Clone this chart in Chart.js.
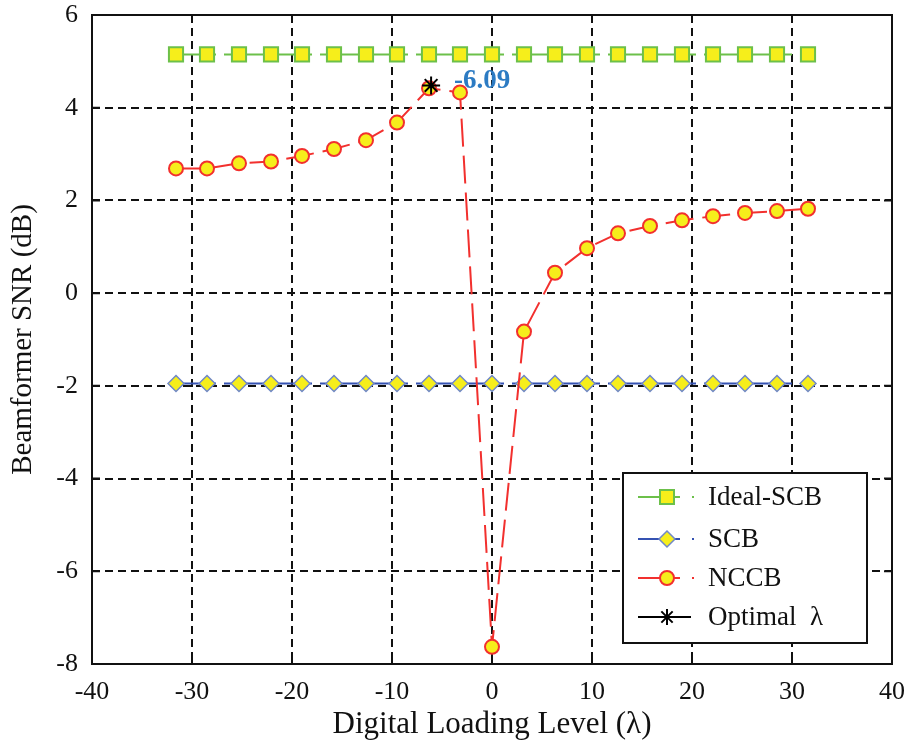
<!DOCTYPE html>
<html><head><meta charset="utf-8">
<script src="https://cdn.jsdelivr.net/npm/chart.js@4/dist/chart.umd.min.js"></script>
<style>html,body{margin:0;padding:0;background:#fff}canvas{display:block}</style>
</head><body>
<canvas id="c" width="904" height="744"></canvas>
<script>
// ---- data ----
const lambdaValues = [-31.6, -28.5, -25.3, -22.1, -19.0, -15.8, -12.6, -9.5, -6.3, -3.2, 0, 3.2, 6.3, 9.5, 12.6, 15.8, 19.0, 22.1, 25.3, 28.5, 31.6];
const idealScb = [5.15, 5.15, 5.15, 5.15, 5.15, 5.15, 5.15, 5.15, 5.15, 5.15, 5.15, 5.15, 5.15, 5.15, 5.15, 5.15, 5.15, 5.15, 5.15, 5.15, 5.15];
const scb = [-1.95, -1.95, -1.95, -1.95, -1.95, -1.95, -1.95, -1.95, -1.95, -1.95, -1.95, -1.95, -1.95, -1.95, -1.95, -1.95, -1.95, -1.95, -1.95, -1.95, -1.95];
const nccb = [2.69, 2.69, 2.80, 2.84, 2.96, 3.11, 3.30, 3.68, 4.42, 4.33, -7.63, -0.83, 0.44, 0.97, 1.29, 1.45, 1.57, 1.66, 1.73, 1.77, 1.82];
const optimalX = [-6.09];
const optimalY = [4.48];
const optimalLabel = '-6.09';
const xTicks = [-40, -30, -20, -10, 0, 10, 20, 30, 40];
const yTicks = [-8, -6, -4, -2, 0, 2, 4, 6];
const seriesNames = ['Ideal-SCB', 'SCB', 'NCCB', 'Optimal  \u03BB'];
const xTitle = 'Digital Loading Level (\u03BB)';
const yTitle = 'Beamformer SNR (dB)';

// ---- styles ----
const SERIF = "'Liberation Serif', 'Times New Roman', serif";
const YELLOW = '#F6EE1B';
const GREEN = '#6CC04A';
const BLUE = '#3552B2';
const BLUE_EDGE = '#7088C8';
const RED = '#F2302E';
const LABEL_BLUE = '#2C7BC3';

const toPts = (xs, ys) => xs.map((x, i) => ({x: x, y: ys[i]}));

function drawMarker(ctx, kind, x, y) {
  ctx.save();
  ctx.setLineDash([]);
  if (kind === 'rect') {
    ctx.fillStyle = YELLOW; ctx.strokeStyle = GREEN; ctx.lineWidth = 2;
    ctx.beginPath(); ctx.rect(x - 7, y - 7, 14, 14); ctx.fill(); ctx.stroke();
  } else if (kind === 'diamond') {
    ctx.fillStyle = YELLOW; ctx.strokeStyle = BLUE_EDGE; ctx.lineWidth = 1.5;
    ctx.beginPath(); ctx.moveTo(x, y - 8); ctx.lineTo(x + 8, y); ctx.lineTo(x, y + 8); ctx.lineTo(x - 8, y); ctx.closePath(); ctx.fill(); ctx.stroke();
  } else if (kind === 'circle') {
    ctx.fillStyle = YELLOW; ctx.strokeStyle = RED; ctx.lineWidth = 2;
    ctx.beginPath(); ctx.arc(x, y, 7, 0, Math.PI * 2); ctx.fill(); ctx.stroke();
  } else if (kind === 'star') {
    ctx.strokeStyle = '#000'; ctx.lineWidth = 2;
    ctx.beginPath();
    for (let a = 0; a < 4; a++) {
      const ang = a * Math.PI / 4;
      ctx.moveTo(x - 8 * Math.cos(ang), y - 8 * Math.sin(ang));
      ctx.lineTo(x + 8 * Math.cos(ang), y + 8 * Math.sin(ang));
    }
    ctx.stroke();
  }
  ctx.restore();
}

const framePlugin = {
  id: 'frame',
  afterDraw(chart) {
    const ctx = chart.ctx;
    const a = chart.chartArea;
    const xs = chart.scales.x, ys = chart.scales.y;
    ctx.save();
    ctx.setLineDash([]);
    ctx.strokeStyle = '#111';
    ctx.lineWidth = 2;
    // inward ticks
    ctx.beginPath();
    xTicks.forEach(v => {
      const px = xs.getPixelForValue(v);
      ctx.moveTo(px, a.bottom); ctx.lineTo(px, a.bottom - 8);
      ctx.moveTo(px, a.top); ctx.lineTo(px, a.top + 8);
    });
    yTicks.forEach(v => {
      const py = ys.getPixelForValue(v);
      ctx.moveTo(a.left, py); ctx.lineTo(a.left + 8, py);
      ctx.moveTo(a.right, py); ctx.lineTo(a.right - 8, py);
    });
    ctx.stroke();
    ctx.strokeRect(a.left, a.top, a.right - a.left, a.bottom - a.top);

    // optimal label
    const meta = chart.getDatasetMeta(3);
    const pt = meta.data[0];
    ctx.font = "bold 27px " + SERIF;
    ctx.fillStyle = LABEL_BLUE;
    ctx.textAlign = 'left';
    ctx.textBaseline = 'middle';
    ctx.fillText(optimalLabel, pt.x + 23, pt.y - 4);

    // legend
    const L = 623, T = 473, W = 244, H = 170;
    ctx.fillStyle = '#fff';
    ctx.fillRect(L, T, W, H);
    ctx.strokeStyle = '#111';
    ctx.lineWidth = 2;
    ctx.strokeRect(L, T, W, H);
    const rows = [497, 539, 578, 617];
    const cols = [GREEN, BLUE, RED, '#000'];
    const kinds = ['rect', 'diamond', 'circle', 'star'];
    rows.forEach((ry, i) => {
      ctx.strokeStyle = cols[i];
      ctx.lineWidth = 2;
      ctx.beginPath();
      if (i === 3) { ctx.moveTo(638, ry); ctx.lineTo(691, ry); }
      else { ctx.moveTo(638, ry); ctx.lineTo(680, ry); }
      ctx.stroke();
      drawMarker(ctx, kinds[i], 667, ry);
      if (i < 3) { ctx.fillStyle = cols[i]; ctx.fillRect(692, ry - 1, 2, 2); }
      ctx.fillStyle = '#111';
      ctx.font = "27px " + SERIF;
      ctx.textAlign = 'left';
      ctx.textBaseline = 'middle';
      ctx.fillText(seriesNames[i], 708, ry + 1);
    });
    ctx.restore();
  }
};

const tickFont = {family: SERIF, size: 26};

new Chart(document.getElementById('c'), {
  type: 'line',
  data: {
    datasets: [
      {
        label: seriesNames[0], data: toPts(lambdaValues, idealScb), order: 3,
        borderColor: GREEN, borderWidth: 2, borderDash: [40, 8],
        pointStyle: 'rect', pointRadius: 10, pointBackgroundColor: YELLOW, pointBorderColor: GREEN, pointBorderWidth: 2
      },
      {
        label: seriesNames[1], data: toPts(lambdaValues, scb), order: 2,
        borderColor: BLUE, borderWidth: 2, borderDash: [40, 8],
        pointStyle: 'rectRot', pointRadius: 8, pointBackgroundColor: YELLOW, pointBorderColor: BLUE_EDGE, pointBorderWidth: 1.5
      },
      {
        label: seriesNames[2], data: toPts(lambdaValues, nccb), order: 1,
        borderColor: RED, borderWidth: 2, borderDash: [28, 9],
        pointStyle: 'circle', pointRadius: 7, pointBackgroundColor: YELLOW, pointBorderColor: RED, pointBorderWidth: 2
      },
      {
        label: seriesNames[3], data: toPts(optimalX, optimalY), order: 0,
        borderColor: '#000', showLine: false,
        pointStyle: 'star', pointRadius: 9, pointBorderColor: '#000', pointBorderWidth: 2, pointBackgroundColor: '#000'
      }
    ]
  },
  options: {
    responsive: false,
    animation: false,
    devicePixelRatio: 1,
    layout: {padding: {top: 15, right: 12, left: 0, bottom: 0}},
    plugins: {legend: {display: false}, tooltip: {enabled: false}},
    elements: {line: {tension: 0}},
    scales: {
      x: {
        type: 'linear', min: -40, max: 40,
        afterBuildTicks: s => { s.ticks = xTicks.map(v => ({value: v})); },
        afterFit: s => { s.height = 80; s.paddingLeft = 0; s.paddingRight = 0; },
        grid: {color: '#111', lineWidth: 2, drawTicks: false},
        border: {display: false, dash: [8, 5]},
        ticks: {font: tickFont, color: '#111', padding: 13, maxRotation: 0, callback: v => String(v)},
        title: {display: true, text: xTitle, font: {family: SERIF, size: 31}, color: '#111', padding: {top: 0, bottom: 1}}
      },
      y: {
        type: 'linear', min: -8, max: 6,
        afterBuildTicks: s => { s.ticks = yTicks.map(v => ({value: v})); },
        afterFit: s => { s.width = 92; s.paddingTop = 0; s.paddingBottom = 0; },
        grid: {color: '#111', lineWidth: 2, drawTicks: false},
        border: {display: false, dash: [8, 5]},
        ticks: {font: tickFont, color: '#111', padding: 14, callback: v => String(v)},
        title: {display: true, text: yTitle, font: {family: SERIF, size: 29}, color: '#111', padding: {top: 6, bottom: 0}}
      }
    }
  },
  plugins: [framePlugin]
});
</script>
</body></html>
